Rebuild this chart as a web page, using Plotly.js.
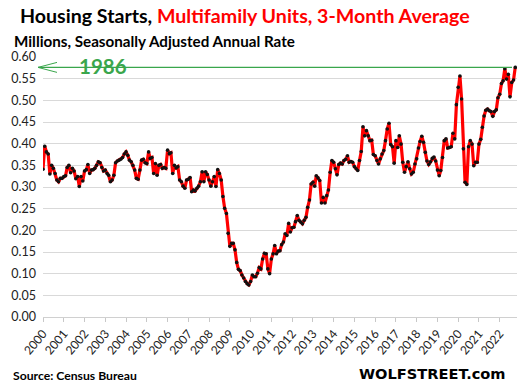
<!DOCTYPE html>
<html>
<head>
<meta charset="utf-8">
<script src="https://cdn.plot.ly/plotly-3.0.1.min.js"></script>
<style>html,body{margin:0;padding:0;background:#fff;}#chart{width:521px;height:389px;}</style>
</head>
<body>
<div id="chart"></div>
<script>
// Multifamily housing starts, 3-month average, millions SAAR (monthly, Jan 2000 onward)
const v2000 = [0.341,0.394,0.381,0.376,0.330,0.350,0.343,0.331,0.316,0.312,0.320,0.320];
const v2001 = [0.324,0.326,0.345,0.350,0.333,0.343,0.337,0.319,0.324,0.301,0.324,0.314];
const v2002 = [0.337,0.340,0.352,0.331,0.339,0.340,0.343,0.350,0.358,0.356,0.345,0.337];
const v2003 = [0.339,0.331,0.327,0.312,0.316,0.327,0.356,0.360,0.362,0.364,0.368,0.376];
const v2004 = [0.381,0.373,0.362,0.358,0.350,0.339,0.320,0.318,0.339,0.362,0.364,0.356];
const v2005 = [0.354,0.381,0.366,0.368,0.331,0.354,0.327,0.350,0.352,0.343,0.345,0.343];
const v2006 = [0.385,0.377,0.379,0.331,0.350,0.344,0.347,0.316,0.312,0.302,0.297,0.316];
const v2007 = [0.318,0.322,0.289,0.293,0.291,0.297,0.302,0.312,0.335,0.312,0.335,0.329];
const v2008 = [0.316,0.302,0.312,0.324,0.301,0.340,0.331,0.316,0.278,0.251,0.239,0.193];
const v2009 = [0.163,0.170,0.170,0.155,0.126,0.110,0.107,0.097,0.090,0.082,0.077,0.074];
const v2010 = [0.082,0.097,0.093,0.093,0.101,0.114,0.111,0.134,0.147,0.146,0.111,0.100];
const v2011 = [0.134,0.146,0.165,0.146,0.152,0.153,0.167,0.173,0.192,0.188,0.216,0.196];
const v2012 = [0.206,0.207,0.220,0.234,0.223,0.219,0.215,0.223,0.230,0.253,0.270,0.307];
const v2013 = [0.311,0.302,0.326,0.321,0.315,0.263,0.276,0.263,0.280,0.293,0.334,0.361];
const v2014 = [0.357,0.342,0.328,0.352,0.355,0.353,0.361,0.364,0.372,0.357,0.359,0.357];
const v2015 = [0.347,0.342,0.338,0.361,0.382,0.439,0.418,0.430,0.418,0.407,0.408,0.375];
const v2016 = [0.372,0.361,0.353,0.365,0.376,0.384,0.407,0.434,0.447,0.398,0.393,0.355];
const v2017 = [0.407,0.391,0.418,0.399,0.357,0.334,0.347,0.358,0.342,0.330,0.334,0.353];
const v2018 = [0.365,0.390,0.405,0.417,0.403,0.380,0.360,0.352,0.358,0.366,0.369,0.360];
const v2019 = [0.339,0.326,0.338,0.368,0.407,0.411,0.390,0.391,0.393,0.424,0.411,0.490];
const v2020 = [0.530,0.556,0.503,0.388,0.311,0.306,0.393,0.407,0.399,0.349,0.357,0.357];
const v2021 = [0.399,0.410,0.438,0.464,0.477,0.480,0.476,0.474,0.463,0.474,0.478,0.506];
const v2022 = [0.514,0.539,0.545,0.573,0.549,0.560,0.508,0.541,0.547,0.576];

const startYear = 2000;
const yearValues = [v2000,v2001,v2002,v2003,v2004,v2005,v2006,v2007,v2008,v2009,v2010,v2011,
                    v2012,v2013,v2014,v2015,v2016,v2017,v2018,v2019,v2020,v2021,v2022];
const record1986 = 0.576;   // 1986 level marked by the green line
const recordLabel = "1986";
const yTicks = [0,0.05,0.10,0.15,0.20,0.25,0.30,0.35,0.40,0.45,0.50,0.55,0.60];

const dates = [], values = [];
yearValues.forEach((arr, yi) => {
  arr.forEach((v, m) => {
    dates.push((startYear + yi) + "-" + String(m + 1).padStart(2, "0") + "-01");
    values.push(v);
  });
});

const W = 521, H = 389;
const M = {l: 43, r: 4, t: 57, b: 72};
const pw = W - M.l - M.r, ph = H - M.t - M.b;
const px = x => (x - M.l) / pw;          // pixel -> paper x
const py = y => (H - M.b - y) / ph;      // pixel -> paper y

const trace = {
  type: "scatter", mode: "lines+markers",
  x: dates, y: values,
  line: {color: "#ff0000", width: 3.2},
  marker: {color: "#111", size: 3.6},
  hoverinfo: "skip"
};

const green = "#3aa64c";
const layout = {
  width: W, height: H,
  margin: M,
  paper_bgcolor: "#fff", plot_bgcolor: "#fff",
  showlegend: false,
  font: {family: "Lato, 'Open Sans', sans-serif", color: "#333"},
  xaxis: {
    type: "date",
    range: ["2000-01-01", "2022-11-01"],
    tick0: "2000-01-01", dtick: "M12", tickformat: "%Y",
    tickangle: -50,
    ticks: "outside", ticklen: 4, tickcolor: "#c8c8c8",
    showgrid: false, showline: true, linecolor: "#d0d0d0", linewidth: 1,
    tickfont: {size: 12, color: "#222", family: "Lato, sans-serif"},
    zeroline: false, fixedrange: true
  },
  yaxis: {
    range: [0, 0.6],
    tickvals: yTicks, tickformat: ".2f",
    showgrid: true, gridcolor: "#d9d9d9", gridwidth: 1,
    zeroline: false, showline: false, ticks: "",
    ticklabelstandoff: 6,
    tickfont: {size: 12.5, color: "#222", family: "Lato, sans-serif"},
    fixedrange: true
  },
  shapes: [
    {type: "line", xref: "paper", yref: "y", x0: px(38), x1: px(512), y0: record1986, y1: record1986,
     line: {color: green, width: 1.3}},
    {type: "path", xref: "paper", yref: "y",
     path: `M ${px(57)},${record1986 + 0.0115} L ${px(38)},${record1986} L ${px(57)},${record1986 - 0.0115}`,
     line: {color: green, width: 1}}
  ],
  annotations: [
    {text: "Housing Starts, <span style='color:#ff0000'>Multifamily Units, 3-Month Average</span>",
     xref: "paper", yref: "paper",
     x: px(18), y: py(16), xanchor: "left", yanchor: "middle", showarrow: false,
     font: {family: "Lato, sans-serif", size: 19.6, color: "#000", weight: "bold"}},
    {text: "Millions, Seasonally Adjusted Annual Rate", xref: "paper", yref: "paper",
     x: px(12), y: py(41), xanchor: "left", yanchor: "middle", showarrow: false,
     font: {family: "Lato, sans-serif", size: 15.2, color: "#000", weight: "bold"}},
    {text: recordLabel, xref: "paper", yref: "y",
     x: px(77), y: record1986, xanchor: "left", yanchor: "middle", yshift: 1, showarrow: false,
     font: {family: "Lato, sans-serif", size: 20.5, color: green, weight: "bold"}},
    {text: "Source: Census Bureau", xref: "paper", yref: "paper",
     x: px(11), y: py(375), xanchor: "left", yanchor: "middle", showarrow: false,
     font: {family: "Lato, sans-serif", size: 12.2, color: "#000", weight: "bold"}},
    {text: "WOLFSTREET.com", xref: "paper", yref: "paper",
     x: px(508), y: py(373), xanchor: "right", yanchor: "middle", showarrow: false,
     font: {family: "'DejaVu Sans', sans-serif", size: 14.6, color: "#000", weight: "bold"}}
  ]
};

Plotly.newPlot("chart", [trace], layout, {displayModeBar: false, staticPlot: true});
</script>
</body>
</html>
